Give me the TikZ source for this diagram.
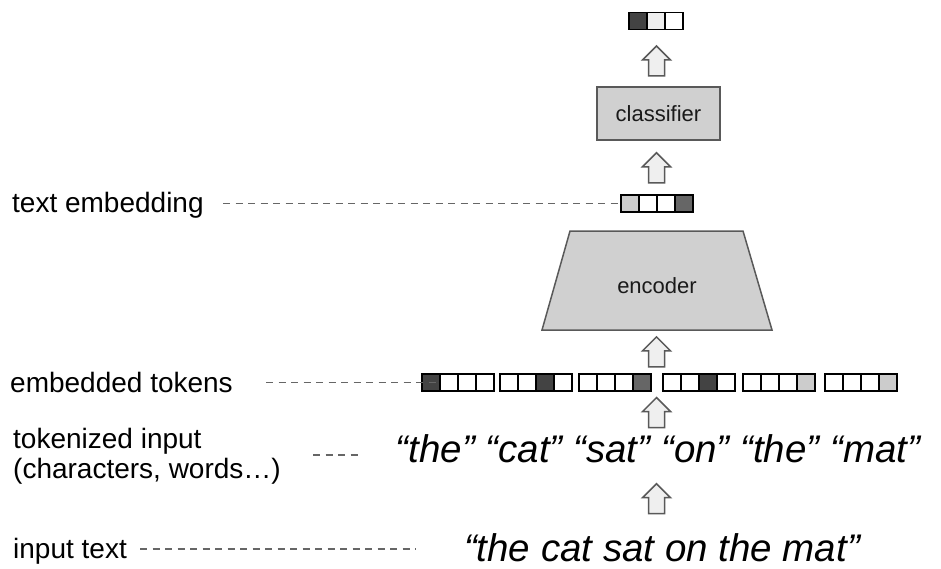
\documentclass[tikz,border=0pt]{standalone}
\usepackage{fontspec}
\setmainfont{Liberation Sans}
\usetikzlibrary{calc}
\definecolor{dk}{HTML}{434343}
\definecolor{md}{HTML}{666666}
\definecolor{lt}{HTML}{CCCCCC}
\definecolor{vl}{HTML}{EEEEEE}
\definecolor{edge}{HTML}{595959}
\definecolor{boxfill}{HTML}{D0D0D0}
\definecolor{arrfill}{HTML}{EFEFEF}
\definecolor{dashc}{HTML}{666666}
\definecolor{txt}{HTML}{1A1A1A}
\newcommand{\vecnode}[5]{% name, cells, left x, center y, colours
  \node[inner sep=0pt, minimum width={18pt*#2}, minimum height=17pt, anchor=west] (#1) at (#3,#4) {};
  \foreach \c [count=\i from 0] in {#5} {
    \draw[cell, fill=\c] ({#3+18*\i},{#4-8.5}) rectangle ++(18,17);
  }
}
\newcommand{\blockarrow}[3][0pt]{% shift, lower anchor, upper anchor
  \draw[barrow] let \p1=($(#2)!0.5!(#3)$) in
    (648.5pt,{\y1+(#1)-15pt}) -- (648.5pt,{\y1+(#1)+1pt}) -- (642.5pt,{\y1+(#1)+1pt})
    -- (656.5pt,{\y1+(#1)+15pt}) -- (670.5pt,{\y1+(#1)+1pt}) -- (664.5pt,{\y1+(#1)+1pt})
    -- (664.5pt,{\y1+(#1)-15pt}) -- cycle;
}
\begin{document}
\begin{tikzpicture}[x=1pt,y=-1pt,
  lbl/.style={font=\fontsize{28}{30}\selectfont, inner sep=0pt, align=left, text=black},
  tok/.style={font=\fontsize{38.5}{40}\selectfont\itshape, inner sep=0pt, text=black},
  boxtext/.style={font=\fontsize{22}{24}\selectfont, text=txt},
  gbox/.style={draw=edge, fill=boxfill, line width=1.5pt, line join=miter},
  cell/.style={draw=black, line width=1.8pt},
  dashline/.style={draw=dashc, line width=1.5pt, dash pattern=on 7pt off 5.5pt},
  barrow/.style={draw=edge, fill=arrfill, line width=1.5pt, line join=miter}]
\useasboundingbox (0,0) rectangle (941,569);

% output vector
\vecnode{tv}{3}{629}{21}{dk,vl,white}
% classifier
\node[gbox, boxtext, minimum width=123pt, minimum height=53pt, inner sep=0pt] (cls) at (658.5,113.5) {classifier};
% text embedding vector
\vecnode{te}{4}{621}{203.5}{lt,white,white,md}
% encoder
\coordinate (encbl) at (542,330);
\coordinate (enctl) at (570,231);
\coordinate (enctr) at (743,231);
\coordinate (encbr) at (772,330);
\coordinate (encb) at (657,330);
\draw[gbox] (encbl) -- (enctl) -- (enctr) -- (encbr) -- cycle;
\node[boxtext, inner sep=0pt] (enc) at (657,285.5) {encoder};
% embedded tokens
\vecnode{v1}{4}{422}{382.5}{dk,white,white,white}
\vecnode{v2}{4}{500}{382.5}{white,white,dk,white}
\vecnode{v3}{4}{579}{382.5}{white,white,white,md}
\vecnode{v4}{4}{663}{382.5}{white,white,dk,white}
\vecnode{v5}{4}{743}{382.5}{white,white,white,lt}
\vecnode{v6}{4}{825}{382.5}{white,white,white,lt}
% texts
\node[tok, anchor=base] (tokens) at (658,462) {“the” “cat” “sat” “on” “the” “mat”};
\node[tok, anchor=base] (itext) at (662,561) {“the cat sat on the mat”};

% labels
\node[lbl, anchor=base west] (lte) at (12,212) {text embedding};
\node[lbl, anchor=base west] (let) at (10,392) {embedded tokens};
\node[lbl, anchor=north west] (lti) at (13,428) {tokenized input\\(characters, words…)};
\node[lbl, anchor=base west] (lit) at (13,558) {input text};

% dashed leaders
\coordinate (d1) at (223,203.5);
\draw[dashline] (d1) -- (te.west);
\coordinate (d2) at (266,382.5);
\draw[dashline] (d2) -- ([xshift=16pt]v1.west);
\coordinate (d3) at (313,455);
\coordinate (d3e) at (360,455);
\draw[dashline] (d3) -- (d3e);
\coordinate (d4) at (140,549);
\coordinate (d4e) at (416,549);
\draw[dashline] (d4) -- (d4e);

% block arrows
\blockarrow[-3pt]{tv.south}{cls.north}
\blockarrow{cls.south}{te.north}
\blockarrow{encb}{v1.north -| encb}
\blockarrow{v1.south -| encb}{tokens.north -| encb}
\blockarrow[-1pt]{tokens.south -| encb}{itext.north -| encb}
\end{tikzpicture}
\end{document}
